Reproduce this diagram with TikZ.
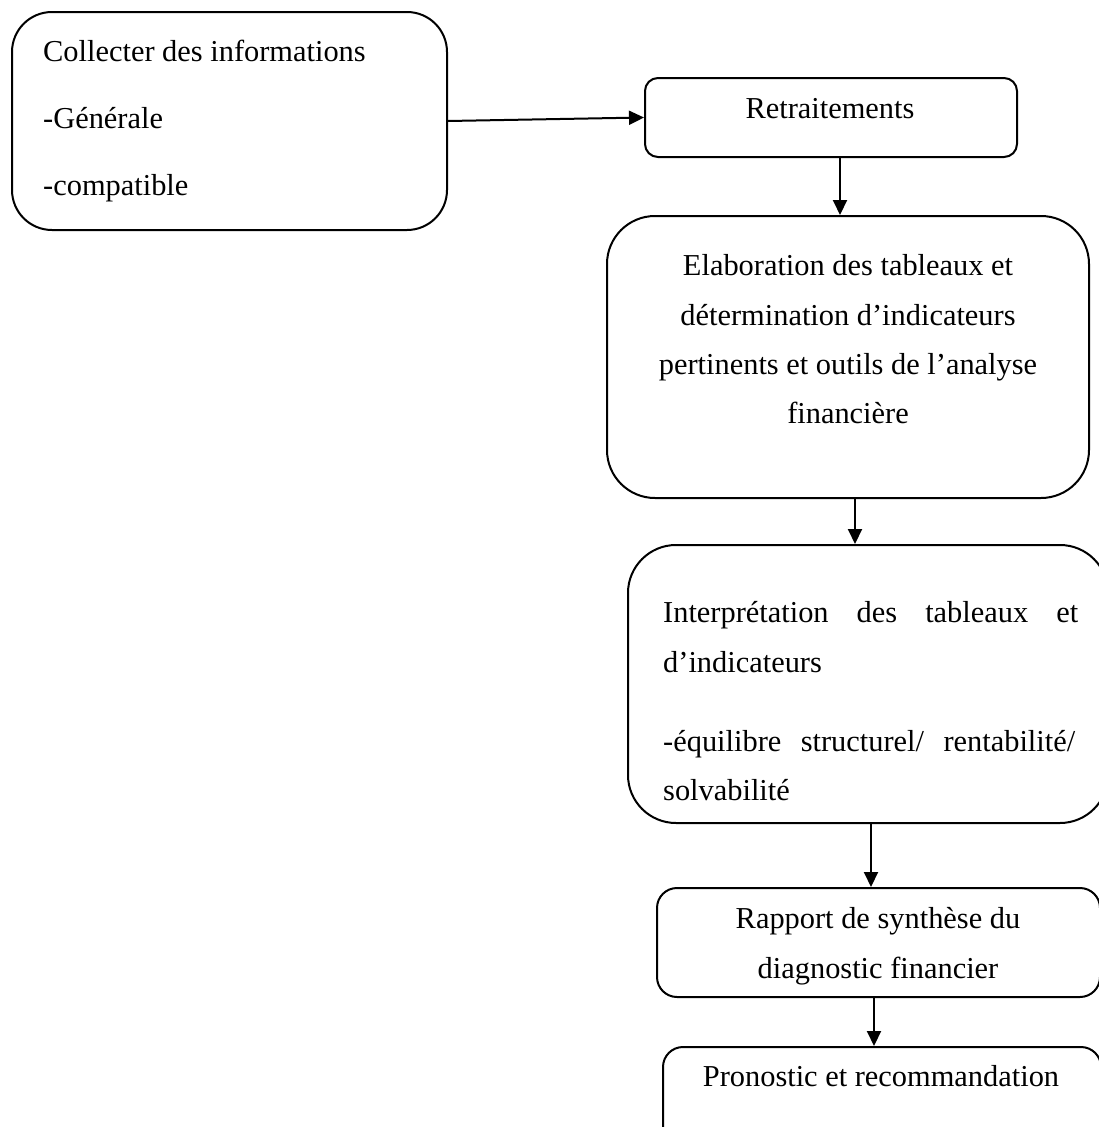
\documentclass[tikz,border=0pt]{standalone}
\usepackage{fontspec}
\setmainfont{Liberation Serif}
\usetikzlibrary{arrows.meta}
\begin{document}
\begin{tikzpicture}[x=1pt,y=-1pt,
  box/.style={draw, line width=2pt, rectangle, inner sep=0pt},
  txt/.style={inner sep=0pt, font=\fontsize{30.4}{36}\selectfont},
  arr/.style={line width=2pt, -{Triangle[length=15pt,width=14pt]}}]
\useasboundingbox (0,0) rectangle (1099,1127);
\clip (0,0) rectangle (1099,1127);
% boxes
\node[box, rounded corners=40pt, minimum width=435pt, minimum height=218pt] (collect) at (229.5,121) {};
\node[box, rounded corners=13pt, minimum width=372pt, minimum height=79pt] (ret) at (831,117.5) {};
\node[box, rounded corners=48pt, minimum width=482pt, minimum height=282pt] (elab) at (848,357) {};
\node[box, rounded corners=48pt, minimum width=480pt, minimum height=278pt] (interp) at (868,684) {};
\node[box, rounded corners=20pt, minimum width=443pt, minimum height=109pt] (rapport) at (878.5,942.5) {};
\node[box, rounded corners=20pt, minimum width=438pt, minimum height=110pt] (prono) at (882,1102) {};
% texts
\node[txt, anchor=base west] (c1) at (43,61) {Collecter des informations};
\node[txt, anchor=base west] (c2) at (43,128) {-Générale};
\node[txt, anchor=base west] (c3) at (43,195) {-compatible};
\node[txt, anchor=base] (r1) at (830,118) {Retraitements};
\node[txt, anchor=base] (e1) at (848,275) {Elaboration des tableaux et};
\node[txt, anchor=base] (e2) at (848,325) {détermination d’indicateurs};
\node[txt, anchor=base] (e3) at (848,374) {pertinents et outils de l’analyse};
\node[txt, anchor=base] (e4) at (848,423) {financière};
\node[txt, anchor=base west] (i1) at (663,622) {\makebox[415pt][s]{Interprétation des tableaux et}};
\node[txt, anchor=base west] (i2) at (663,672) {d’indicateurs};
\node[txt, anchor=base west] (i3) at (663,751) {\makebox[412pt][s]{-équilibre structurel/ rentabilité/}};
\node[txt, anchor=base west] (i4) at (663,800) {solvabilité};
\node[txt, anchor=base] (s1) at (878,928) {Rapport de synthèse du};
\node[txt, anchor=base] (s2) at (878,978) {diagnostic financier};
\node[txt, anchor=base] (p1) at (881,1086) {Pronostic et recommandation};
% arrows
\draw[arr] (collect.east) -- (ret.west);
\draw[arr] ([xshift=9pt]ret.south) -- ([xshift=9pt]ret.south |- elab.north);
\draw[arr] ([xshift=7pt]elab.south) -- ([xshift=7pt]elab.south |- interp.north);
\draw[arr] ([xshift=3pt]interp.south) -- ([xshift=3pt]interp.south |- rapport.north);
\draw[arr] ([xshift=-4.5pt]rapport.south) -- ([xshift=-4.5pt]rapport.south |- prono.north);
\end{tikzpicture}
\end{document}
